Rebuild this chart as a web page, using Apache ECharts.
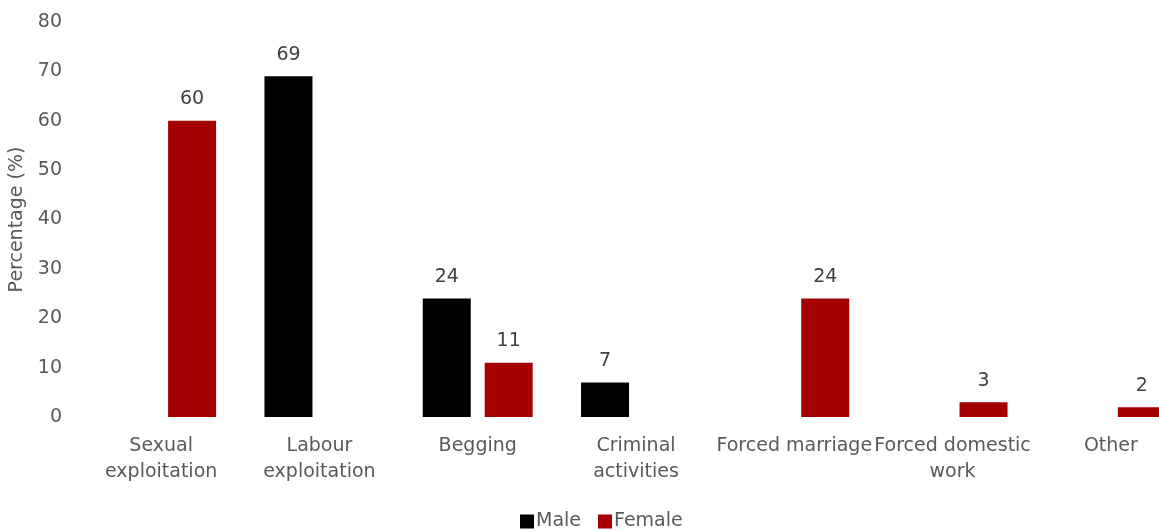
<!DOCTYPE html>
<html>
<head>
<meta charset="utf-8">
<script src="https://cdn.jsdelivr.net/npm/echarts@6/dist/echarts.min.js"></script>
<style>html,body{margin:0;padding:0;background:#fff;overflow:hidden}#c{width:1190px;height:531px}</style>
</head>
<body>
<div id="c"></div>
<script>
const categories = ['Sexual\nexploitation', 'Labour\nexploitation', 'Begging', 'Criminal\nactivities', 'Forced marriage', 'Forced domestic\nwork', 'Other'];
const maleValues = [null, 69, 24, 7, null, null, null];
const femaleValues = [60, null, 11, null, 24, 3, 2];
const seriesNames = ['Male', 'Female'];
const yAxisName = 'Percentage (%)';

const FONT = 'DejaVu Sans';
const FS = 19;
const chart = echarts.init(document.getElementById('c'));
const labelStyle = {show: true, position: 'top', distance: 12, color: '#404040', fontSize: FS, fontFamily: FONT};
chart.setOption({
  animation: false,
  textStyle: {fontFamily: FONT},
  grid: {left: 82, right: 0, top: 22, bottom: 114, containLabel: false, outerBoundsMode: 'none'},
  legend: {
    bottom: 0, left: 520, padding: 0, icon: 'rect', itemWidth: 14, itemHeight: 14, itemGap: 17,
    textStyle: {color: '#595959', fontSize: FS, fontFamily: FONT, padding: [0, 0, 0, -3]},
    data: seriesNames
  },
  xAxis: {
    type: 'category', data: categories,
    axisLine: {show: false}, axisTick: {show: false},
    axisLabel: {interval: 0, color: '#595959', fontSize: FS, fontFamily: FONT, lineHeight: 26, margin: 16}
  },
  yAxis: {
    type: 'value', min: 0, max: 80, interval: 10,
    name: yAxisName, nameLocation: 'middle', nameGap: 48, nameRotate: 90,
    nameTextStyle: {color: '#595959', fontSize: FS, fontFamily: FONT},
    splitLine: {show: false}, axisLine: {show: false}, axisTick: {show: false},
    axisLabel: {color: '#595959', fontSize: FS, fontFamily: FONT, margin: 20}
  },
  series: [
    {name: seriesNames[0], type: 'bar', data: maleValues, barWidth: 48, barGap: '29%', itemStyle: {color: '#000000'}, label: labelStyle},
    {name: seriesNames[1], type: 'bar', data: femaleValues, barWidth: 48, itemStyle: {color: '#A50002'}, label: labelStyle}
  ]
});
</script>
</body>
</html>
